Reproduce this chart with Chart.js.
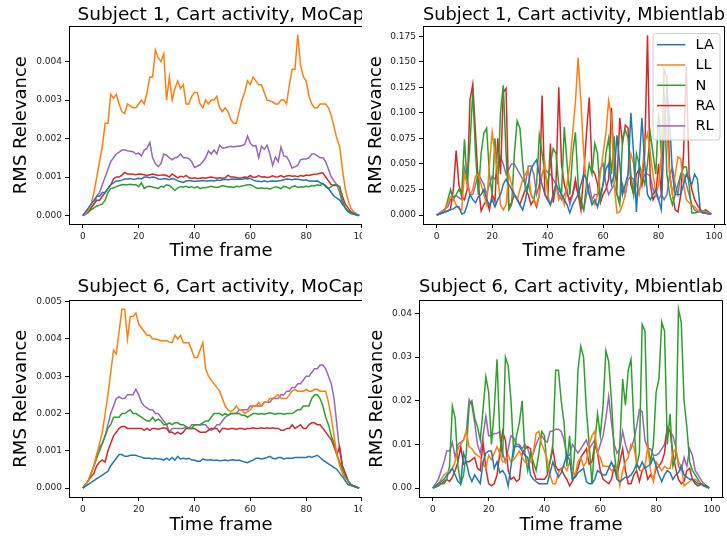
<!DOCTYPE html>
<html><head><meta charset="utf-8">
<script src="https://cdn.jsdelivr.net/npm/chart.js@4"></script>
<style>
html,body{margin:0;padding:0;background:#fff;}
body{width:727px;height:538px;position:relative;overflow:hidden;}
.panel{position:absolute;overflow:hidden;}
canvas{display:block;}
</style></head><body>
<div class="panel" style="left:0;top:0;width:362px;height:270px"><canvas id="c1" width="380" height="270"></canvas></div>
<div class="panel" style="left:362px;top:0;width:365px;height:270px"><canvas id="c2" width="365" height="270"></canvas></div>
<div class="panel" style="left:0;top:270px;width:362px;height:268px"><canvas id="c3" width="380" height="268"></canvas></div>
<div class="panel" style="left:362px;top:270px;width:365px;height:268px"><canvas id="c4" width="365" height="268"></canvas></div>
<script>
// ---------- data ----------
const seriesNames = ['LA','LL','N','RA','RL'];
const frames = Array.from({length:100},(_,i)=>i);
const xTicks = [0,20,40,60,80,100];
const s1MocapTicks = [0,0.001,0.002,0.003,0.004];
const s1MbientTicks = [0,0.025,0.05,0.075,0.1,0.125,0.15,0.175];
const s6MocapTicks = [0,0.001,0.002,0.003,0.004,0.005];
const s6MbientTicks = [0,0.01,0.02,0.03,0.04];

// Subject 1, MoCap
const s1MocapLA = [0,0.0001,0.0002,0.0003,0.0004,0.0005,0.0005,0.0006,0.0006,0.0007,
0.0008,0.00085,0.0009,0.0009,0.00092,0.00095,0.00095,0.00096,0.00094,0.00095,
0.00097,0.00095,0.001,0.001,0.00098,0.001,0.00099,0.00095,0.00094,0.00096,
0.00095,0.00093,0.00096,0.00094,0.0009,0.00088,0.00086,0.0009,0.00091,0.0009,
0.00089,0.0009,0.0009,0.00091,0.0009,0.0009,0.00091,0.0009,0.00092,0.00091,
0.00093,0.00094,0.00093,0.00094,0.00095,0.00094,0.00095,0.00094,0.00096,0.00095,
0.00097,0.00092,0.0009,0.00089,0.00088,0.0009,0.00088,0.00089,0.0009,0.00089,
0.0009,0.00091,0.00093,0.00095,0.00094,0.00093,0.00095,0.00094,0.00093,0.00092,
0.00093,0.0009,0.0009,0.00089,0.0009,0.00085,0.00083,0.00078,0.0007,0.0006,
0.0005,0.00045,0.0004,0.0003,0.0002,0.00012,0.00008,0.00005,0.00003,0];
const s1MocapLL = [0,0.00005,0.00015,0.0003,0.0006,0.001,0.0014,0.0018,0.0024,0.0024,
0.00315,0.00305,0.00315,0.0029,0.0027,0.00265,0.0029,0.00285,0.0028,0.0028,
0.0029,0.003,0.0029,0.0032,0.0036,0.0036,0.0043,0.0041,0.004,0.0042,
0.003,0.0036,0.003,0.0033,0.0035,0.0033,0.0034,0.0029,0.0029,0.0031,
0.0032,0.0032,0.0029,0.0028,0.003,0.0029,0.003,0.003,0.0031,0.0028,
0.0027,0.0028,0.0027,0.0025,0.0024,0.0024,0.0027,0.003,0.0032,0.0035,
0.0034,0.0036,0.0035,0.0034,0.0034,0.0032,0.003,0.00298,0.00295,0.0029,
0.0029,0.003,0.003,0.0029,0.0034,0.0038,0.0038,0.0047,0.0039,0.0036,
0.0035,0.0031,0.0029,0.0028,0.0028,0.0029,0.0029,0.0029,0.0028,0.0026,
0.0023,0.002,0.0018,0.0012,0.0007,0.0004,0.0002,0.0001,0.00005,0];
const s1MocapN = [0,0.00003,0.00008,0.00015,0.0002,0.00025,0.00027,0.0003,0.0004,0.0006,
0.0007,0.00072,0.00075,0.00078,0.0008,0.0008,0.0008,0.00081,0.0008,0.0008,
0.00075,0.00085,0.0007,0.00075,0.00076,0.00074,0.00072,0.0007,0.00076,0.00074,
0.0008,0.00078,0.00072,0.00065,0.00072,0.00075,0.00074,0.00076,0.00073,0.00075,
0.00072,0.00075,0.0007,0.00073,0.00072,0.00074,0.00076,0.00074,0.00073,0.00075,
0.00078,0.00076,0.00074,0.00075,0.00073,0.00076,0.00075,0.00077,0.00078,0.0008,
0.0008,0.00077,0.00072,0.0007,0.00072,0.0007,0.00071,0.00069,0.00072,0.00075,
0.00073,0.0007,0.00076,0.00074,0.0007,0.00075,0.00077,0.00073,0.00075,0.00074,
0.00076,0.00075,0.00078,0.00077,0.0008,0.00078,0.00083,0.00075,0.0007,0.00075,
0.0008,0.0008,0.00075,0.0004,0.0002,0.0001,0.00005,0.00003,0.00001,0];
const s1MocapRA = [0,0.00005,0.0001,0.0002,0.0003,0.0004,0.0004,0.0005,0.0006,0.0007,
0.0008,0.00095,0.001,0.001,0.00105,0.00112,0.00108,0.00108,0.00107,0.00106,
0.00108,0.00107,0.00106,0.00104,0.00106,0.00108,0.00106,0.00104,0.00105,0.00106,
0.00104,0.001,0.00108,0.00103,0.00098,0.00102,0.001,0.00104,0.00098,0.00096,
0.00098,0.00096,0.00097,0.00098,0.00097,0.00099,0.001,0.00098,0.00097,0.00098,
0.00097,0.00098,0.00105,0.001,0.001,0.00099,0.00097,0.00098,0.001,0.00099,
0.00104,0.00099,0.001,0.00104,0.001,0.00101,0.00099,0.001,0.00103,0.001,
0.00101,0.00104,0.001,0.00103,0.00104,0.00102,0.00103,0.00101,0.00104,0.00102,
0.00105,0.00104,0.00106,0.00107,0.00108,0.0011,0.00111,0.001,0.0009,0.0008,
0.00078,0.00078,0.00075,0.0005,0.0003,0.0002,0.0001,0.00007,0.00003,0];
const s1MocapRL = [0,0.00005,0.0001,0.0002,0.0003,0.0005,0.0006,0.0008,0.001,0.0012,
0.0014,0.0015,0.0016,0.00165,0.0017,0.0017,0.00168,0.00167,0.00166,0.0016,
0.00162,0.00155,0.0017,0.00175,0.0019,0.0015,0.00135,0.00127,0.00135,0.0016,
0.00157,0.0015,0.00145,0.0015,0.00152,0.0016,0.0015,0.0015,0.00148,0.0014,
0.00125,0.00128,0.00132,0.0014,0.0015,0.00168,0.0016,0.0017,0.0016,0.00183,
0.00175,0.00176,0.00178,0.0018,0.00178,0.0018,0.0018,0.00182,0.00185,0.00207,
0.00188,0.0018,0.00182,0.0015,0.0018,0.00172,0.00183,0.0016,0.0013,0.00152,
0.0014,0.00178,0.00155,0.00153,0.0014,0.00123,0.00127,0.0013,0.00145,0.00147,
0.00147,0.0015,0.0016,0.0016,0.00155,0.0015,0.0015,0.0014,0.0012,0.001,
0.0009,0.0008,0.0006,0.0003,0.0002,0.0001,0.00008,0.00005,0.00002,0];

// Subject 1, Mbientlab
const s1MbientLA = [0,0.001,0.002,0.003,0.004,0.005,0.006,0.008,0.008,0.001,
0.002,0.01,0.02,0.015,0.012,0.018,0.02,0.025,0.015,0.01,
0.015,0.008,0.015,0.02,0.03,0.035,0.03,0.025,0.02,0.015,
0.01,0.005,0.015,0.03,0.045,0.05,0.054,0.04,0.03,0.02,
0.015,0.01,0.02,0.03,0.025,0.02,0.015,0.01,0.002,0.01,
0.015,0.02,0.03,0.04,0.035,0.02,0.01,0.015,0.008,0.02,
0.03,0.045,0.05,0.03,0.04,0.078,0.05,0.02,0.03,0.04,
0.1,0.06,0.003,0.05,0.095,0.05,0.02,0.015,0.02,0.025,
0.015,0.005,0.08,0.123,0.09,0.04,0.02,0.02,0.02,0.03,
0.04,0.035,0.03,0.04,0.035,0.005,0.002,0.002,0.001,0.001];
const s1MbientLL = [0,0.001,0.003,0.005,0.012,0.018,0.016,0.01,0.006,0.005,
0.04,0.03,0.02,0.025,0.038,0.04,0.03,0.02,0.01,0.05,
0.081,0.06,0.04,0.01,0.005,0.01,0.04,0.03,0.02,0.015,
0.025,0.035,0.04,0.045,0.02,0.015,0.01,0.02,0.04,0.05,
0.02,0.01,0.02,0.03,0.015,0.02,0.01,0.03,0.05,0.08,
0.11,0.154,0.11,0.06,0.03,0.02,0.015,0.01,0.02,0.04,
0.06,0.08,0.112,0.095,0.03,0.002,0.003,0.01,0.02,0.04,
0.06,0.05,0.03,0.02,0.04,0.07,0.08,0.06,0.04,0.02,
0.03,0.06,0.11,0.08,0.04,0.02,0.04,0.057,0.055,0.03,
0.015,0.012,0.01,0.008,0.005,0.003,0.004,0.003,0.002,0.001];
const s1MbientN = [0,0.001,0.002,0.005,0.015,0.025,0.015,0.02,0.025,0.02,
0.074,0.03,0.07,0.121,0.06,0.02,0.06,0.08,0.085,0.04,
0.02,0.075,0.03,0.1,0.127,0.06,0.005,0.01,0.06,0.092,
0.085,0.05,0.025,0.03,0.02,0.015,0.03,0.078,0.06,0.04,
0.03,0.05,0.065,0.06,0.03,0.02,0.086,0.05,0.02,0.06,
0.081,0.03,0.01,0.005,0.03,0.05,0.04,0.07,0.06,0.015,
0.03,0.06,0.075,0.04,0.077,0.02,0.01,0.075,0.083,0.075,
0.04,0.02,0.06,0.05,0.04,0.03,0.05,0.08,0.06,0.04,
0.1,0.06,0.12,0.04,0.02,0.01,0.02,0.03,0.04,0.047,
0.047,0.03,0.002,0.002,0.003,0.004,0.003,0.002,0.002,0.001];
const s1MbientRA = [0,0.001,0.002,0.003,0.004,0.006,0.025,0.063,0.03,0.018,
0.015,0.025,0.113,0.128,0.08,0.03,0.004,0.01,0.015,0.005,
0.02,0.013,0.075,0.04,0.12,0.124,0.008,0.012,0.02,0.016,
0.01,0.018,0.025,0.02,0.01,0.015,0.008,0.02,0.117,0.02,
0.015,0.07,0.012,0.03,0.125,0.05,0.03,0.02,0.015,0.02,
0.035,0.02,0.005,0.04,0.08,0.115,0.045,0.04,0.03,0.012,
0.02,0.025,0.035,0.105,0.045,0.03,0.095,0.07,0.088,0.085,
0.03,0.02,0.04,0.045,0.03,0.06,0.176,0.03,0.015,0.02,
0.05,0.02,0.142,0.135,0.04,0.02,0.005,0.003,0.02,0.06,
0.145,0.04,0.025,0.015,0.01,0.005,0.004,0.005,0.003,0.001];
const s1MbientRL = [0,0.002,0.004,0.006,0.008,0.015,0.018,0.019,0.017,0.015,
0.046,0.035,0.02,0.02,0.03,0.04,0.035,0.03,0.02,0.03,
0.038,0.035,0.045,0.057,0.05,0.04,0.045,0.05,0.05,0.045,
0.04,0.035,0.03,0.048,0.048,0.04,0.02,0.03,0.04,0.045,
0.042,0.04,0.035,0.03,0.02,0.015,0.02,0.025,0.01,0.02,
0.03,0.02,0.015,0.005,0.02,0.03,0.015,0.02,0.02,0.045,
0.05,0.03,0.02,0.025,0.03,0.02,0.015,0.03,0.02,0.035,
0.037,0.035,0.015,0.025,0.03,0.04,0.04,0.038,0.025,0.02,
0.015,0.02,0.015,0.02,0.04,0.046,0.03,0.02,0.04,0.04,
0.03,0.02,0.01,0.005,0.003,0.003,0.002,0.002,0.001,0.001];

// Subject 6, MoCap
const s6MocapLA = [0,0.00005,0.0001,0.00015,0.0002,0.00025,0.0003,0.00035,0.0004,0.00045,
0.0006,0.0007,0.0008,0.0009,0.0009,0.00085,0.00085,0.00088,0.00088,0.00088,
0.00085,0.00083,0.0008,0.0008,0.0008,0.00078,0.0008,0.00078,0.00078,0.00075,
0.0008,0.00075,0.00082,0.00075,0.00085,0.00078,0.0008,0.00078,0.0008,0.00075,
0.00075,0.00072,0.00072,0.00078,0.00075,0.00075,0.00076,0.00074,0.00075,0.00073,
0.00074,0.00075,0.00073,0.00075,0.00076,0.00074,0.00075,0.00072,0.0007,0.00068,
0.00072,0.00075,0.0008,0.0008,0.00078,0.0008,0.00082,0.00085,0.0008,0.00078,
0.00082,0.00082,0.00078,0.0008,0.0008,0.0008,0.00082,0.00082,0.00082,0.00082,
0.00082,0.00085,0.00082,0.00085,0.00088,0.00082,0.00075,0.0007,0.00065,0.0006,
0.00055,0.0005,0.0004,0.0003,0.0002,0.0001,0.00008,0.00005,0.00002,0];
const s6MocapLL = [0,0.0001,0.0002,0.0004,0.0006,0.0009,0.0012,0.0015,0.002,0.0025,
0.0031,0.0037,0.0036,0.0042,0.0048,0.0048,0.004,0.0046,0.0046,0.0047,
0.0044,0.0043,0.0042,0.0041,0.0041,0.004,0.004,0.00398,0.00395,0.00395,
0.00395,0.00392,0.0039,0.0041,0.004,0.0041,0.0039,0.0039,0.0039,0.0037,
0.0035,0.0035,0.0037,0.0039,0.0032,0.003,0.0029,0.0028,0.0027,0.0026,
0.0024,0.0022,0.0021,0.00205,0.0021,0.0022,0.0021,0.0021,0.002,0.00205,
0.0021,0.0022,0.0022,0.0023,0.0022,0.0023,0.0023,0.0024,0.0024,0.00245,
0.0025,0.0024,0.0024,0.0024,0.0025,0.0026,0.00265,0.0026,0.0026,0.0026,
0.00265,0.0026,0.0026,0.00265,0.00265,0.0026,0.0026,0.0026,0.0023,0.0019,
0.0014,0.0009,0.0006,0.0004,0.0002,0.0001,0.00007,0.00004,0.00002,0];
const s6MocapN = [0,0.0001,0.0002,0.0004,0.0006,0.0008,0.001,0.0012,0.0014,0.0016,
0.0017,0.0019,0.0019,0.0019,0.002,0.002,0.00205,0.0021,0.002,0.002,
0.00195,0.0019,0.00185,0.0018,0.0018,0.0019,0.0018,0.00185,0.0018,0.0017,
0.0017,0.00175,0.0017,0.00175,0.00175,0.0017,0.0017,0.00165,0.0016,0.0016,
0.0017,0.0017,0.0017,0.00175,0.0018,0.0018,0.0019,0.002,0.002,0.002,
0.00195,0.002,0.00195,0.002,0.002,0.002,0.002,0.00195,0.00195,0.0019,
0.00195,0.002,0.002,0.00198,0.002,0.00198,0.002,0.00202,0.002,0.00198,
0.002,0.002,0.00198,0.002,0.002,0.002,0.00205,0.0021,0.0021,0.0022,
0.0022,0.0022,0.0024,0.0025,0.0025,0.0024,0.0022,0.0019,0.0017,0.0014,
0.0012,0.0009,0.0007,0.0005,0.0003,0.0002,0.0001,0.00005,0.00002,0];
const s6MocapRA = [0,0.0001,0.0002,0.0003,0.0004,0.0006,0.0007,0.00075,0.0007,0.001,
0.0012,0.0014,0.0015,0.0016,0.00165,0.00165,0.0016,0.0016,0.0016,0.0016,
0.0016,0.0016,0.00155,0.0016,0.00155,0.0016,0.0016,0.00158,0.0016,0.00162,
0.0016,0.0015,0.0015,0.00145,0.0015,0.00145,0.0015,0.0016,0.0016,0.0016,
0.0016,0.00155,0.0015,0.0015,0.0015,0.00155,0.0016,0.0016,0.0016,0.0015,
0.0016,0.0016,0.00158,0.0016,0.0016,0.00158,0.0016,0.0016,0.00158,0.0016,
0.0016,0.00162,0.0016,0.0016,0.00162,0.0016,0.00162,0.0016,0.00162,0.0016,
0.0016,0.00155,0.00155,0.0016,0.0016,0.0017,0.0016,0.00165,0.0017,0.0016,
0.0016,0.0017,0.00175,0.00175,0.0017,0.0017,0.0016,0.0015,0.0014,0.0013,
0.0011,0.0009,0.0011,0.0006,0.0004,0.0002,0.0001,0.00006,0.00003,0];
const s6MocapRL = [0,0.0001,0.0002,0.0004,0.0006,0.0009,0.0011,0.0012,0.0014,0.0017,
0.002,0.0022,0.0024,0.00245,0.0024,0.0024,0.0025,0.0025,0.0025,0.00265,
0.0025,0.0023,0.0022,0.00215,0.0021,0.0021,0.002,0.002,0.0019,0.0018,
0.0017,0.0015,0.0016,0.0016,0.0016,0.0016,0.0016,0.00165,0.0016,0.0017,
0.0017,0.0017,0.0017,0.0017,0.0017,0.0016,0.00155,0.0016,0.0017,0.0017,
0.0018,0.0019,0.00195,0.002,0.002,0.002,0.0021,0.0021,0.0021,0.0021,
0.0022,0.0022,0.0022,0.0022,0.0022,0.0023,0.0023,0.0023,0.0024,0.0024,
0.0024,0.0025,0.0025,0.0026,0.0026,0.0027,0.0027,0.0028,0.0028,0.0029,
0.003,0.003,0.0031,0.0032,0.0032,0.0033,0.0033,0.0032,0.003,0.0028,
0.0024,0.0017,0.001,0.0006,0.0004,0.0002,0.0001,0.00006,0.00003,0];

// Subject 6, Mbientlab
const s6MbientLA = [0,0.0005,0.001,0.0015,0.002,0.003,0.0035,0.0045,0.003,0.0015,
0.001,0.008,0.006,0.003,0.0015,0.003,0.002,0.001,0.006,0.008,
0.0085,0.0085,0.0045,0.006,0.0035,0.004,0.003,0.0005,0.005,0.0095,
0.0095,0.0095,0.0085,0.0075,0.007,0.003,0.002,0.0015,0.001,0.001,
0.001,0.001,0.0035,0.006,0.004,0.0025,0.0035,0.0055,0.0075,0.0065,
0.002,0.0025,0.0035,0.004,0.0045,0.0015,0.001,0.001,0.002,0.004,
0.0035,0.003,0.003,0.0045,0.006,0.0045,0.002,0.0015,0.002,0.0025,
0.0025,0.003,0.004,0.0055,0.0045,0.006,0.0045,0.005,0.0055,0.007,
0.005,0.003,0.0015,0.003,0.004,0.0035,0.002,0.003,0.0035,0.005,
0.003,0.0025,0.002,0.002,0.0015,0.001,0.001,0.0005,0.0005,0];
const s6MbientLL = [0,0.0005,0.001,0.002,0.003,0.0035,0.004,0.0045,0.006,0.009,
0.01,0.011,0.013,0.0095,0.009,0.008,0.0075,0.007,0.0055,0.0045,
0.0075,0.0065,0.008,0.0095,0.008,0.006,0.006,0.0075,0.006,0.0065,
0.0075,0.0085,0.007,0.006,0.0055,0.006,0.008,0.0125,0.013,0.01,
0.0085,0.0065,0.003,0.001,0.001,0.0035,0.0045,0.005,0.004,0.006,
0.004,0.003,0.006,0.007,0.005,0.006,0.01,0.012,0.013,0.008,
0.007,0.005,0.005,0.005,0.004,0.0045,0.0045,0.0005,0.004,0.006,
0.007,0.01,0.0095,0.006,0.004,0.004,0.005,0.0095,0.004,0.0015,
0.006,0.005,0.004,0.005,0.0045,0.0045,0.008,0.009,0.006,0.005,
0.0005,0.001,0.0015,0.002,0.002,0.0015,0.001,0.001,0.0005,0];
const s6MbientN = [0,0.0002,0.0005,0.001,0.001,0.002,0.005,0.0188,0.016,0.005,
0.001,0.003,0.008,0.019,0.02,0.016,0.014,0.011,0.018,0.0255,
0.022,0.01,0.018,0.0295,0.012,0.007,0.03,0.028,0.02,0.008,
0.012,0.015,0.02,0.008,0.004,0.008,0.006,0.004,0.008,0.013,
0.012,0.004,0.006,0.01,0.027,0.027,0.02,0.015,0.005,0.012,
0.002,0.01,0.027,0.0325,0.03,0.018,0.01,0.001,0.01,0.017,
0.012,0.019,0.0315,0.029,0.02,0.008,0.003,0.01,0.025,0.019,
0.027,0.0295,0.015,0.005,0.008,0.0375,0.036,0.01,0.006,0.01,
0.022,0.025,0.038,0.036,0.01,0.017,0.005,0.007,0.041,0.038,
0.02,0.014,0.006,0.004,0.003,0.002,0.001,0.0005,0.0002,0];
const s6MbientRA = [0,0.0003,0.0005,0.001,0.0015,0.002,0.0015,0.0025,0.004,0.006,
0.0095,0.0055,0.006,0.006,0.0065,0.007,0.0045,0.004,0.0105,0.0045,
0.001,0.0005,0.001,0.003,0.008,0.013,0.011,0.004,0.002,0.0025,
0.0015,0.002,0.008,0.009,0.0095,0.009,0.004,0.002,0.002,0.002,
0.002,0.003,0.006,0.009,0.005,0.004,0.0045,0.003,0.002,0.0005,
0.0015,0.003,0.0045,0.007,0.008,0.009,0.0055,0.006,0.01,0.008,
0.004,0.002,0.0015,0.001,0.002,0.005,0.003,0.006,0.009,0.004,
0.001,0.001,0.003,0.004,0.0015,0.004,0.005,0.002,0.003,0.002,
0.0045,0.005,0.006,0.008,0.014,0.013,0.008,0.0045,0.002,0.001,
0.0015,0.004,0.0045,0.002,0.001,0.0005,0.0008,0.001,0.0005,0];
const s6MbientRL = [0,0.001,0.002,0.004,0.006,0.0085,0.0085,0.0105,0.007,0.01,
0.0105,0.011,0.013,0.0203,0.019,0.015,0.01,0.008,0.012,0.0165,
0.012,0.012,0.0125,0.0125,0.013,0.008,0.006,0.009,0.012,0.0115,
0.01,0.01,0.009,0.01,0.009,0.007,0.008,0.01,0.0115,0.012,
0.011,0.0105,0.013,0.013,0.0135,0.0135,0.013,0.011,0.0075,0.0075,
0.01,0.009,0.008,0.009,0.01,0.011,0.009,0.01,0.011,0.008,
0.01,0.012,0.016,0.021,0.015,0.01,0.008,0.009,0.013,0.01,
0.008,0.009,0.011,0.014,0.018,0.0175,0.011,0.009,0.009,0.0075,
0.0075,0.008,0.009,0.01,0.0135,0.013,0.012,0.0095,0.005,0.004,
0.007,0.005,0.009,0.0075,0.004,0.003,0.002,0.001,0.0005,0];

// ---------- drawing ----------
const COLORS = ['#1f77b4','#ff7f0e','#2ca02c','#d62728','#9467bd'];
const F = '"DejaVu Sans", sans-serif';

const framePlugin = {
  id: 'frame',
  afterDraw(chart) {
    const a = chart.chartArea, ctx = chart.ctx;
    const t = Math.round(a.top) + 0.5, r = Math.round(a.right) - 0.5, b = Math.round(a.bottom);
    ctx.save();
    ctx.strokeStyle = '#000'; ctx.lineWidth = 1;
    ctx.beginPath();
    ctx.moveTo(Math.round(a.left), t); ctx.lineTo(r, t); ctx.lineTo(r, b);
    ctx.stroke();
    ctx.restore();
  }
};

const boxLegend = {
  id: 'boxLegend',
  afterDraw(chart) {
    const a = chart.chartArea, ctx = chart.ctx;
    const w = 67, h = 106.5, x0 = a.right - 5 - w, y0 = a.top + 7.3, rr = 3;
    ctx.save();
    ctx.beginPath();
    ctx.moveTo(x0 + rr, y0);
    ctx.arcTo(x0 + w, y0, x0 + w, y0 + h, rr);
    ctx.arcTo(x0 + w, y0 + h, x0, y0 + h, rr);
    ctx.arcTo(x0, y0 + h, x0, y0, rr);
    ctx.arcTo(x0, y0, x0 + w, y0, rr);
    ctx.closePath();
    ctx.fillStyle = 'rgba(255,255,255,0.8)';
    ctx.fill();
    ctx.strokeStyle = '#cccccc'; ctx.lineWidth = 1;
    ctx.stroke();
    chart.data.datasets.forEach((ds, i) => {
      const cy = y0 + 11.2 + i * 20.3;
      ctx.strokeStyle = ds.borderColor; ctx.lineWidth = 1.5;
      ctx.beginPath(); ctx.moveTo(x0 + 4, cy); ctx.lineTo(x0 + 32.3, cy); ctx.stroke();
      ctx.fillStyle = '#000'; ctx.font = '14.5px ' + F; ctx.textBaseline = 'middle'; ctx.textAlign = 'left';
      ctx.fillText(ds.label, x0 + 42.5, cy + 0.5);
    });
    ctx.restore();
  }
};

function makeChart(id, title, series, yMin, yMax, yTicks, yDec, L) {
  const datasets = series.map((vals, k) => ({
    label: seriesNames[k],
    data: vals.map((v, i) => ({x: frames[i], y: v})),
    borderColor: COLORS[k],
    backgroundColor: COLORS[k],
    borderWidth: 1.5,
    pointRadius: 0,
    tension: 0,
    fill: false
  }));
  const plugins = [framePlugin];
  if (L.legend) plugins.push(boxLegend);
  return new Chart(document.getElementById(id), {
    type: 'line',
    data: {datasets},
    plugins,
    options: {
      responsive: false,
      animation: false,
      events: [],
      layout: {padding: {left: 0, right: L.padR, top: 0, bottom: 0}},
      plugins: {
        legend: {display: false},
        tooltip: {enabled: false},
        title: {display: true, text: title, fullSize: false, color: '#000',
          font: {family: F, size: 18.5, weight: 'normal'}, padding: {top: L.tTop, bottom: L.tBot}}
      },
      scales: {
        x: {
          type: 'linear', min: -4.95, max: 103.95,
          afterBuildTicks: s => { s.ticks = xTicks.map(v => ({value: v})); },
          afterFit: s => { s.height = L.xH; s.paddingLeft = 0; s.paddingRight = 0; },
          ticks: {font: {family: F, size: 9}, color: '#222', padding: 3, maxRotation: 0, autoSkip: false,
            callback: v => String(v)},
          grid: {display: true, drawOnChartArea: false, drawTicks: true, tickLength: 4, color: '#000', lineWidth: 1},
          border: {display: true, color: '#000', width: 1},
          title: {display: true, text: 'Time frame', color: '#000', font: {family: F, size: 18},
            padding: {top: 0, bottom: L.xTP}}
        },
        y: {
          type: 'linear', min: yMin, max: yMax,
          afterBuildTicks: s => { s.ticks = yTicks.map(v => ({value: v})); },
          afterFit: s => { s.width = L.yW; s.paddingTop = 0; s.paddingBottom = 0; },
          ticks: {font: {family: F, size: 9}, color: '#222', padding: 3, autoSkip: false,
            callback: v => Number(v).toFixed(yDec)},
          grid: {display: true, drawOnChartArea: false, drawTicks: true, tickLength: 4, color: '#000', lineWidth: 1},
          border: {display: true, color: '#000', width: 1},
          title: {display: true, text: 'RMS Relevance', color: '#000', font: {family: F, size: 18},
            padding: {top: L.yTP, bottom: 0}}
        }
      }
    }
  });
}

makeChart('c1', 'Subject 1, Cart activity, MoCap',
  [s1MocapLA, s1MocapLL, s1MocapN, s1MocapRA, s1MocapRL], -0.00022, 0.00492, s1MocapTicks, 3,
  {padR: 7, yW: 69, xH: 46, tTop: 4, tBot: 0, xTP: 8, yTP: 11, legend: false});
makeChart('c2', 'Subject 1, Cart activity, Mbientlab',
  [s1MbientLA, s1MbientLL, s1MbientN, s1MbientRA, s1MbientRL], -0.0088, 0.1848, s1MbientTicks, 3,
  {padR: 2, yW: 61, xH: 46, tTop: 4, tBot: 0, xTP: 8, yTP: 4, legend: true});
makeChart('c3', 'Subject 6, Cart activity, MoCap',
  [s6MocapLA, s6MocapLL, s6MocapN, s6MocapRA, s6MocapRL], -0.00024, 0.00504, s6MocapTicks, 3,
  {padR: 7, yW: 69, xH: 41, tTop: 6, tBot: 2, xTP: 2, yTP: 11, legend: false});
makeChart('c4', 'Subject 6, Cart activity, Mbientlab',
  [s6MbientLA, s6MbientLL, s6MbientN, s6MbientRA, s6MbientRL], -0.00205, 0.04305, s6MbientTicks, 2,
  {padR: 4, yW: 57, xH: 41, tTop: 6, tBot: 2, xTP: 2, yTP: 5, legend: false});
</script>
</body></html>
